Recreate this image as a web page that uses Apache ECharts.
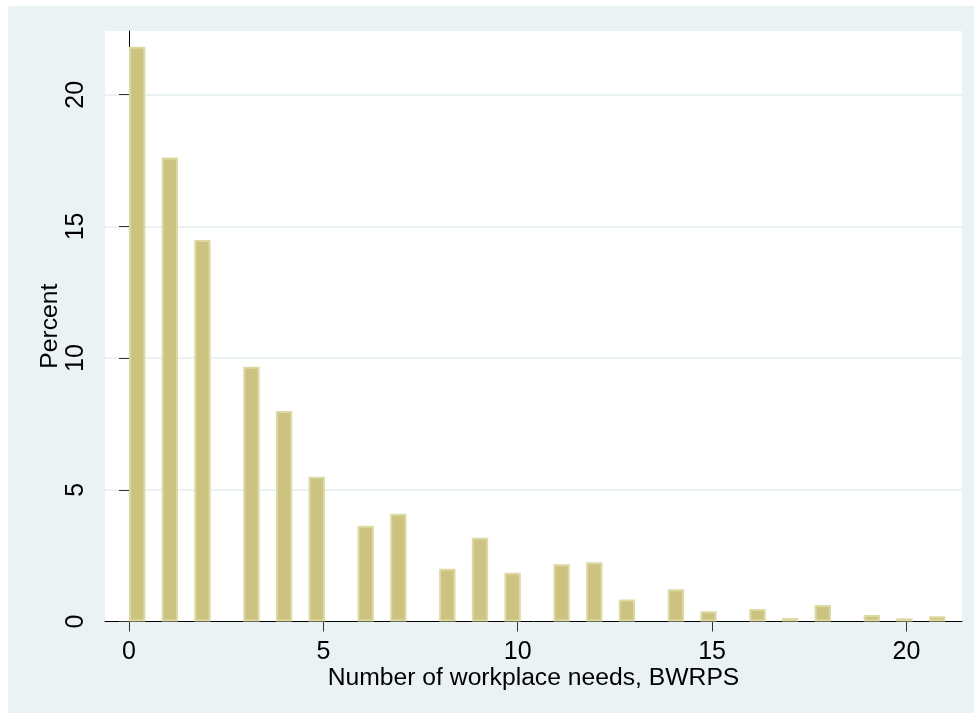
<!DOCTYPE html>
<html>
<head>
<meta charset="utf-8">
<script src="https://cdn.jsdelivr.net/npm/echarts@6/dist/echarts.min.js"></script>
<style>
  html, body { margin: 0; padding: 0; background: #ffffff; width: 974px; height: 713px; overflow: hidden; }
  #chart { position: absolute; left: 8px; top: 6px; width: 966px; height: 707px; }
</style>
</head>
<body>
<div id="chart"></div>
<script>
// Bin centres (Stata histogram, 50 bins over 0-21) and percent heights
var binCenters = [0.21, 1.05, 1.89, 3.15, 3.99, 4.83, 6.09, 6.93, 8.19, 9.03, 9.87,
                  11.13, 11.97, 12.81, 14.07, 14.91, 16.17, 17.01, 17.85, 19.11, 19.95, 20.79];
var percents = [21.82, 17.62, 14.48, 9.67, 7.99, 5.50, 3.64, 4.09, 2.00, 3.18, 1.85,
                2.17, 2.25, 0.84, 1.22, 0.39, 0.47, 0.13, 0.63, 0.25, 0.12, 0.20];
var xTicks = [0, 5, 10, 15, 20];
var yTicks = [0, 5, 10, 15, 20];
var xTitle = 'Number of workplace needs, BWRPS';
var yTitle = 'Percent';

var seriesData = binCenters.map(function (c, i) { return [c, percents[i]]; });

var font = '"Liberation Sans", Arial, Helvetica, sans-serif';
var chart = echarts.init(document.getElementById('chart'), null, { renderer: 'canvas' });
chart.setOption({
  animation: false,
  backgroundColor: '#EAF2F3',
  textStyle: { fontFamily: font },
  grid: {
    left: 97, right: 12, top: 25, bottom: 91.5,
    show: true, backgroundColor: '#ffffff', borderWidth: 0
  },
  xAxis: {
    type: 'value',
    min: -0.617, max: 21.43,
    name: xTitle,
    nameLocation: 'middle',
    nameGap: 44,
    nameMoveOverlap: false,
    nameTextStyle: { fontSize: 24.7, color: '#000', fontFamily: font },
    axisLine: { show: true, lineStyle: { color: '#000', width: 1 } },
    axisTick: { show: true, customValues: xTicks, length: 10, lineStyle: { color: '#333', width: 1 } },
    axisLabel: { customValues: xTicks, fontSize: 25, color: '#000', margin: 18, fontFamily: font },
    splitLine: { show: false }
  },
  yAxis: {
    type: 'value',
    min: 0, max: 22.42, interval: 5,
    name: yTitle,
    nameLocation: 'middle',
    nameRotate: 90,
    nameGap: 42,
    nameMoveOverlap: false,
    nameTextStyle: { fontSize: 24.7, color: '#000', fontFamily: font },
    axisLine: { show: true, lineStyle: { color: '#000', width: 1 } },
    axisTick: { show: true, customValues: yTicks, length: 10, lineStyle: { color: '#333', width: 1 } },
    axisLabel: { customValues: yTicks, rotate: 90, fontSize: 25, color: '#000', margin: 16, fontFamily: font },
    splitLine: { show: true, lineStyle: { color: '#EAF2F3', width: 2 } }
  },
  series: [{
    type: 'bar',
    data: seriesData,
    barWidth: 16.3,
    itemStyle: { color: '#CBC37F', borderColor: '#DDD9A3', borderWidth: 2 }
  }]
});
</script>
</body>
</html>
